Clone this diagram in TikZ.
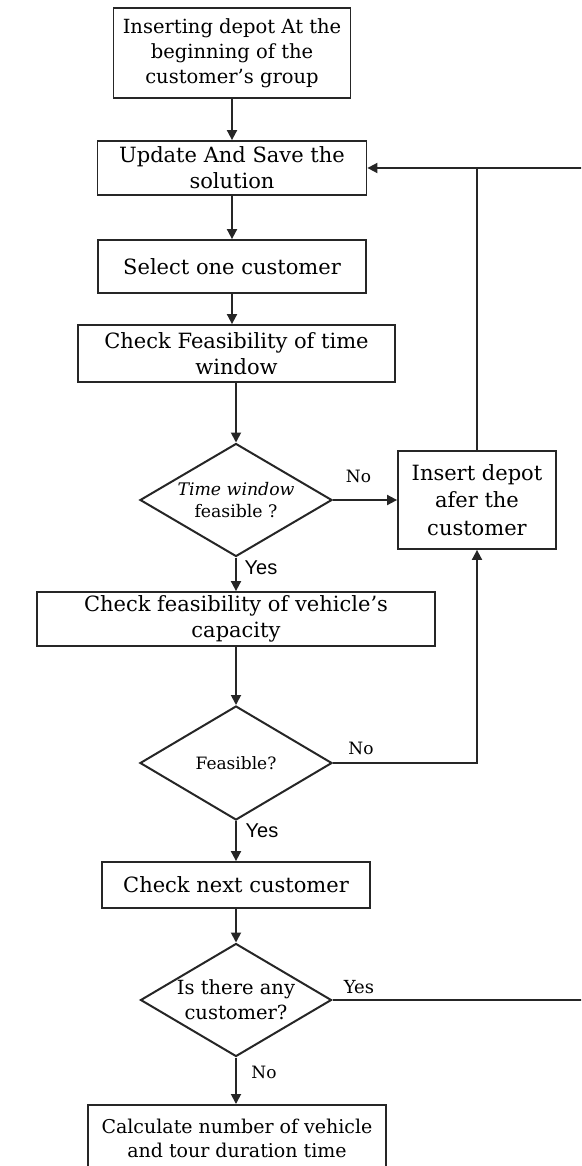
\documentclass[tikz,border=0pt]{standalone}
\usepackage{fontspec}
\setmainfont{DejaVu Serif}
\setsansfont{Liberation Sans}
\usetikzlibrary{arrows.meta,shapes.geometric,calc}
\begin{document}
\begin{tikzpicture}[x=1pt,y=-1pt,
  conn/.style={line width=1.8pt,draw=black!85},
  arr/.style={conn,-{Triangle[length=10pt,width=10pt]}},
  box/.style={draw=black!85,line width=1.8pt,rectangle,inner sep=0pt,align=center,font=\fontsize{21}{26}\selectfont},
  dia/.style={draw=black!85,line width=2pt,diamond,inner sep=0pt},
  dtxt/.style={align=center,inner sep=0pt},
  lbl/.style={font=\fontsize{17}{19}\selectfont,inner sep=0pt},
  slbl/.style={font=\sffamily\fontsize{20}{22}\selectfont,inner sep=0pt}]
\useasboundingbox (0,0) rectangle (581,1166);
\clip (0,0) rectangle (581,1166);
\node[box,minimum width=237pt,minimum height=90pt,font=\fontsize{19.5}{25}\selectfont] (b1) at (232,53) {Inserting depot At the\\beginning of the\\customer's group};
\node[box,minimum width=269pt,minimum height=54pt] (b2) at (232,168) {Update And Save the\\solution};
\node[box,minimum width=268pt,minimum height=53pt] (b3) at (232,266.5) {Select one customer};
\node[box,minimum width=317pt,minimum height=57pt] (b4) at (236.5,353.5) {Check Feasibility of time\\window};
\node[dia,minimum width=192pt,minimum height=113pt] (d1) at (236,500) {};
\node[dtxt,font=\fontsize{17.3}{22}\selectfont] (t1) at (d1) {\textit{Time window}\\feasible ?};
\node[box,minimum width=158pt,minimum height=98pt,font=\fontsize{21}{27.5}\selectfont] (ins) at (477,500) {Insert depot\\afer the\\customer};
\node[box,minimum width=398pt,minimum height=54pt] (b5) at (236,619) {Check feasibility of vehicle's\\capacity};
\node[dia,minimum width=192pt,minimum height=114pt] (d2) at (236,763) {};
\node[dtxt,font=\fontsize{17}{20}\selectfont] (t2) at (d2) {Feasible?};
\node[box,minimum width=268pt,minimum height=46pt] (b6) at (236,885) {Check next customer};
\node[dia,minimum width=191pt,minimum height=113pt] (d3) at (236,1000) {};
\node[dtxt,font=\fontsize{19.5}{25}\selectfont] (t3) at (d3) {Is there any\\customer?};
\node[box,minimum width=298pt,minimum height=68pt,anchor=north,font=\fontsize{19}{24}\selectfont] (b7) at (237,1104) {Calculate number of vehicle\\and tour duration time};
\coordinate (r1) at (600,1000);
\coordinate (r2) at (600,168);
\coordinate (j) at (ins.north |- b2.east);
\draw[arr] (b1) -- (b2);
\draw[arr] (b2) -- (b3);
\draw[arr] (b3.south) -- (b3.south |- b4.north);
\draw[arr] (b4.south -| d1.north) -- (d1.north);
\draw[arr] (d1.east) -- (ins.west);
\draw[arr] (d1.south) -- (d1.south |- b5.north);
\draw[arr] (b5.south -| d2.north) -- (d2.north);
\draw[arr] (d2.east) -| (ins.south);
\draw[arr] (d2.south) -- (d2.south |- b6.north);
\draw[arr] (b6.south -| d3.north) -- (d3.north);
\draw[arr] (d3.south) -- (d3.south |- b7.north);
\draw[conn] (d3.east) -- (r1);
\draw[arr] (r2) -- (b2.east);
\draw[conn] (ins.north) -- (j);
\node[lbl] (n1) at (358.5,476) {No};
\node[slbl] (y1) at (261,568) {Yes};
\node[lbl] (n2) at (361,748) {No};
\node[slbl] (y2) at (262,831) {Yes};
\node[lbl,font=\fontsize{18}{20}\selectfont] (y3) at (359,987) {Yes};
\node[lbl] (n3) at (264,1072) {No};
\end{tikzpicture}
\end{document}
